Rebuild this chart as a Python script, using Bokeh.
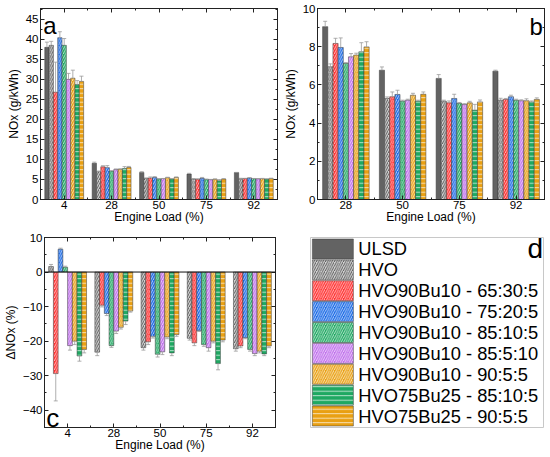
import numpy as np
from bokeh.plotting import figure
from bokeh.models import (Range1d, LinearAxis, FixedTicker, SingleIntervalTicker, Whisker, TeeHead,
                          ColumnDataSource, Label, Span)
from bokeh.layouts import column, row
from bokeh.embed import file_html
from bokeh.resources import INLINE
from bokeh.core.properties import value

# ---------------- data ----------------
loads = ["4", "28", "50", "75", "92"]
series_names = ["ULSD", "HVO", "HVO90Bu10 - 65:30:5", "HVO90Bu10 - 75:20:5", "HVO90Bu10 - 85:10:5",
                "HVO90Bu10 - 85:5:10", "HVO90Bu10 - 90:5:5", "HVO75Bu25 - 85:10:5", "HVO75Bu25 - 90:5:5"]

# NOx (g/kWh) at loads 4, 28, 50, 75, 92 %
nox_ulsd = [38.0, 9.05, 6.77, 6.34, 6.72]
nox_hvo = [38.5, 6.95, 5.29, 5.15, 5.20]
nox_65_30_5 = [26.8, 8.17, 5.38, 5.06, 5.24]
nox_75_20_5 = [40.4, 7.96, 5.50, 5.29, 5.38]
nox_85_10_5 = [38.5, 7.12, 5.15, 5.03, 5.20]
nox_85_5_10 = [30.0, 7.47, 5.20, 4.97, 5.17]
nox_90_5_5 = [30.3, 7.56, 5.46, 5.06, 5.17]
nox_b25_85_10_5 = [28.7, 7.73, 5.15, 4.68, 5.11]
nox_b25_90_5_5 = [29.5, 7.99, 5.51, 5.11, 5.24]

err_ulsd = [1.3, 0.28, 0.17, 0.20, 0.05]
err_hvo = [1.0, 0.15, 0.08, 0.05, 0.10]
err_65_30_5 = [7.5, 0.27, 0.25, 0.10, 0.05]
err_75_20_5 = [1.5, 0.50, 0.22, 0.22, 0.08]
err_85_10_5 = [1.7, 0.05, 0.05, 0.05, 0.05]
err_85_5_10 = [1.5, 0.17, 0.05, 0.05, 0.05]
err_90_5_5 = [2.0, 0.10, 0.10, 0.08, 0.10]
err_b25_85_10_5 = [1.0, 0.48, 0.05, 0.30, 0.05]
err_b25_90_5_5 = [1.3, 0.27, 0.12, 0.10, 0.08]

# Delta NOx (%) relative to ULSD
d_hvo = [1.6, -23.2, -21.9, -19.2, -22.2]
d_65_30_5 = [-29.4, -9.6, -20.2, -20.5, -21.4]
d_75_20_5 = [6.6, -12.0, -18.6, -16.9, -19.0]
d_85_10_5 = [1.4, -21.3, -23.8, -21.0, -22.4]
d_85_5_10 = [-21.3, -17.1, -23.1, -21.9, -23.6]
d_90_5_5 = [-20.0, -16.0, -18.8, -20.0, -22.9]
d_b25_85_10_5 = [-24.3, -14.2, -23.4, -26.5, -23.7]
d_b25_90_5_5 = [-22.4, -11.3, -18.1, -19.7, -21.4]

derr_hvo = [0.6, 1.0, 0.7, 0.5, 0.7]
derr_65_30_5 = [7.9, 0.5, 0.8, 0.8, 0.5]
derr_75_20_5 = [0.3, 0.6, 0.5, 0.3, 0.3]
derr_85_10_5 = [0.3, 0.5, 0.8, 0.5, 0.5]
derr_85_5_10 = [1.3, 0.7, 0.8, 1.0, 0.6]
derr_90_5_5 = [1.0, 0.5, 0.5, 0.5, 0.5]
derr_b25_85_10_5 = [1.5, 1.0, 0.8, 1.8, 0.5]
derr_b25_90_5_5 = [1.0, 0.3, 0.5, 0.5, 0.5]

nox = [nox_ulsd, nox_hvo, nox_65_30_5, nox_75_20_5, nox_85_10_5, nox_85_5_10, nox_90_5_5,
       nox_b25_85_10_5, nox_b25_90_5_5]
nox_err = [err_ulsd, err_hvo, err_65_30_5, err_75_20_5, err_85_10_5, err_85_5_10, err_90_5_5,
           err_b25_85_10_5, err_b25_90_5_5]
dnox = [d_hvo, d_65_30_5, d_75_20_5, d_85_10_5, d_85_5_10, d_90_5_5, d_b25_85_10_5, d_b25_90_5_5]
dnox_err = [derr_hvo, derr_65_30_5, derr_75_20_5, derr_85_10_5, derr_85_5_10, derr_90_5_5,
            derr_b25_85_10_5, derr_b25_90_5_5]

# ---------------- styles ----------------
GREEN = "#1fa862"
ORANGE = "#e9a013"
styles = [
    dict(fill_color="#636363", hatch_pattern=None, hatch_color="white"),
    dict(fill_color="#d4d4d4", hatch_pattern="/", hatch_color="#1e1e1e"),
    dict(fill_color="#ff2e2e", hatch_pattern="/", hatch_color="white"),
    dict(fill_color="#1a6ae6", hatch_pattern="/", hatch_color="white"),
    dict(fill_color=GREEN, hatch_pattern="/", hatch_color="white"),
    dict(fill_color="#c070ec", hatch_pattern="/", hatch_color="white"),
    dict(fill_color=ORANGE, hatch_pattern="/", hatch_color="white"),
    dict(fill_color=GREEN, hatch_pattern="-", hatch_color="white"),
    dict(fill_color=ORANGE, hatch_pattern="-", hatch_color="white"),
]
FONT = "Liberation Sans"
AX = "#222222"
ERRC = "#9a9a9a"


def bar_kw(st):
    kw = dict(fill_color=st["fill_color"], line_color="#3a3a3a", line_width=0.5)
    if st["hatch_pattern"]:
        kw.update(hatch_pattern=st["hatch_pattern"], hatch_color=st["hatch_color"],
                  hatch_scale=4.5, hatch_weight=0.75, hatch_alpha=0.9)
    return kw


def style_axis(ax, show_labels=True):
    ax.axis_line_color = AX
    ax.major_tick_line_color = AX
    ax.minor_tick_line_color = AX
    ax.major_tick_in = 4
    ax.major_tick_out = 0
    ax.minor_tick_in = 2
    ax.minor_tick_out = 0
    ax.major_label_text_font = FONT
    ax.major_label_text_color = "black"
    ax.major_label_text_font_size = "11.5px"
    ax.axis_label_text_font = FONT
    ax.axis_label_text_font_style = "normal"
    ax.axis_label_text_font_size = "12px"
    ax.axis_label_text_color = "black"
    ax.axis_label_standoff = 2
    ax.major_label_standoff = 2
    if not show_labels:
        ax.major_label_text_color = None
        ax.major_label_text_font_size = "0px"
        ax.major_label_standoff = 0


def make_fig(width, height, ncat, y0, y1, yint, borders, ylabel, xlabels):
    p = figure(width=width, height=height, x_range=Range1d(0.5, ncat + 0.5), y_range=Range1d(y0, y1),
               output_backend="svg", toolbar_location=None,
               min_border_left=borders[0], min_border_right=borders[1],
               min_border_top=borders[2], min_border_bottom=borders[3])
    p.xgrid.visible = False
    p.ygrid.visible = False
    p.outline_line_color = AX
    p.background_fill_color = "white"
    p.border_fill_color = "white"
    xt = FixedTicker(ticks=list(range(1, ncat + 1)), minor_ticks=[k + 0.5 for k in range(0, ncat + 1)])
    yt = SingleIntervalTicker(interval=yint, num_minor_ticks=2)
    xax = p.below[0]
    yax = p.left[0]
    xax.ticker = xt
    yax.ticker = yt
    xax.axis_label = "Engine Load (%)"
    yax.axis_label = ylabel
    style_axis(xax)
    style_axis(yax)
    xax.major_label_standoff = 1
    xax.axis_label_standoff = -2
    xax.major_label_overrides = {k + 1: s for k, s in enumerate(xlabels)}
    top = LinearAxis(ticker=xt)
    right = LinearAxis(ticker=yt)
    style_axis(top, False)
    style_axis(right, False)
    p.add_layout(top, "above")
    p.add_layout(right, "right")
    return p


def whiskers(p, x, lo, hi, upper_head=True):
    src = ColumnDataSource(dict(base=x, lower=lo, upper=hi))
    head = TeeHead(size=4, line_color=ERRC, line_width=0.8)
    w = Whisker(source=src, base="base", lower="lower", upper="upper", line_color=ERRC, line_width=0.8,
                upper_head=head if upper_head else None, lower_head=None if upper_head else head,
                level="overlay")
    p.add_layout(w)


GROUP = 0.82

# ---------------- panel a ----------------
pa = make_fig(280, 226, 5, 0, 47.7, 5, (40, 3, 7, 27), "NOx (g/kWh)", loads)
n = len(nox)
w = GROUP / n
for i, (vals, errs, st) in enumerate(zip(nox, nox_err, styles)):
    x = np.arange(1, len(loads) + 1) + (i - (n - 1) / 2) * w
    v = np.array(vals)
    pa.vbar(x=x, top=v, bottom=0, width=w, **bar_kw(st))
    whiskers(pa, x, v, v + np.array(errs))
pa.add_layout(Label(x=0.56, y=43.4, text="a", text_font=FONT, text_font_size="24px",
                    text_baseline="alphabetic", text_color="black"))

# ---------------- panel b ----------------
loads_b = loads[1:]
pb = make_fig(270, 226, 4, 0, 10, 2, (30, 6, 8, 27), "NOx (g/kWh)", loads_b)
for i, (vals, errs, st) in enumerate(zip(nox, nox_err, styles)):
    x = np.arange(1, len(loads_b) + 1) + (i - (n - 1) / 2) * w
    v = np.array(vals[1:])
    pb.vbar(x=x, top=v, bottom=0, width=w, **bar_kw(st))
    whiskers(pb, x, v, v + np.array(errs[1:]))
pb.add_layout(Label(x=4.47, y=9.08, text="b", text_font=FONT, text_font_size="24px",
                    text_align="right", text_baseline="alphabetic", text_color="black"))

# ---------------- panel c ----------------
pc = make_fig(280, 231, 5, -45, 10, 10, (38, 5, 9, 30), "\u0394NOx (%)", loads)
m = len(dnox)
wc = GROUP / m
pc.add_layout(Span(location=0, dimension="width", line_color="#111111", line_width=1))
for j, (vals, errs, st) in enumerate(zip(dnox, dnox_err, styles[1:])):
    x = np.arange(1, len(loads) + 1) + (j - (m - 1) / 2) * wc
    v = np.array(vals)
    e = np.array(errs)
    pc.vbar(x=x, top=v, bottom=0, width=wc, **bar_kw(st))
    pos = v >= 0
    if pos.any():
        whiskers(pc, x[pos], v[pos], v[pos] + e[pos], True)
    if (~pos).any():
        whiskers(pc, x[~pos], v[~pos] - e[~pos], v[~pos], False)
pc.add_layout(Label(x=0.54, y=-42.2, text="c", text_font=FONT, text_font_size="26px",
                    text_baseline="alphabetic", text_color="black"))

# ---------------- panel d (legend box) ----------------
nser = len(series_names)
pd_ = figure(width=270, height=231, x_range=Range1d(0, 1), y_range=Range1d(nser - 0.45, -0.55),
             output_backend="svg", toolbar_location=None,
             min_border_left=30, min_border_right=7, min_border_top=11, min_border_bottom=14)
pd_.axis.visible = False
pd_.xgrid.visible = False
pd_.ygrid.visible = False
pd_.outline_line_color = "#c8c8c8"
pd_.outline_line_width = 1
pd_.border_fill_color = "white"
rows_idx = np.arange(nser)
for k, st in enumerate(styles):
    pd_.rect(x=[0.096], y=[rows_idx[k]], width=41, height=20, width_units="screen",
             height_units="screen", **bar_kw(st))
pd_.text(x=0.205, y=rows_idx, text=series_names, text_baseline="middle", text_align="left",
         text_font=value(FONT), text_font_size="18.3px", text_color="black")
pd_.add_layout(Label(x=0.998, y=-0.02, text="d", text_font=FONT, text_font_size="28px",
                     text_align="right", text_baseline="alphabetic", text_color="black"))

layout = column(row(pa, pb), row(pc, pd_))

open("out.html", "w").write(file_html(layout, INLINE))
